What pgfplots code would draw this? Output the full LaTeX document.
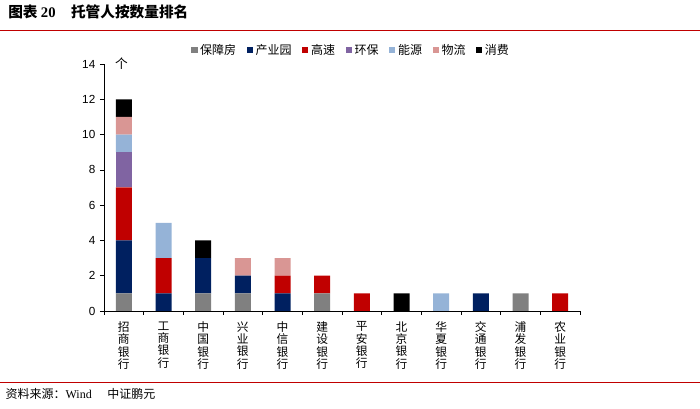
\documentclass[border=0pt]{standalone}
\usepackage{pgfplots}
\pgfplotsset{compat=1.18}
\usepackage{fontspec}
\setmainfont{Noto Sans CJK SC}
\newfontfamily\cjk{Noto Sans CJK SC}
\newfontfamily\arial{Liberation Sans}
\newfontfamily\tnr{Liberation Serif}

\definecolor{cGray}{HTML}{808080}
\definecolor{cNavy}{HTML}{002060}
\definecolor{cRed}{HTML}{C00000}
\definecolor{cPurple}{HTML}{8064A2}
\definecolor{cLBlue}{HTML}{95B3D7}
\definecolor{cPink}{HTML}{D99694}
\definecolor{cLine}{HTML}{C00000}

% x: 0 招商 1 工商 2 中国 3 兴业 4 中信 5 建设 6 平安 7 北京 8 华夏 9 交通 10 浦发 11 农业
\begin{document}
\begin{tikzpicture}
\path[use as bounding box] (0,0) rectangle (525pt,306.75pt);
% header and footer
\node[anchor=west, inner sep=0pt, font=\cjk\bfseries\fontsize{11}{11}\selectfont] at (6pt,297.5pt)
  {图表 {\tnr\bfseries 20}\hspace{1.05em}托管人按数量排名};
\draw[cLine, line width=1pt] (0,284pt) -- (525pt,284pt);
\draw[cLine, line width=1pt] (0,20pt) -- (525pt,20pt);
\node[anchor=west, inner sep=0pt, font=\cjk\fontsize{9}{9}\selectfont] at (4pt,11.5pt)
  {资料来源：{\tnr Wind}\hspace{1.3em}中证鹏元};

\begin{axis}[
    at={(78pt,73.5pt)}, anchor=south west,
    scale only axis, width=357pt, height=185.25pt,
    ybar stacked, bar width=12pt,
    xmin=-0.5, xmax=11.5, ymin=0, ymax=14,
    axis lines*=left,
    axis line style={black, line width=0.6pt},
    xtick={0,...,11},
    xticklabels={招\\商\\银\\行, 工\\商\\银\\行, 中\\国\\银\\行, 兴\\业\\银\\行,
                 中\\信\\银\\行, 建\\设\\银\\行, 平\\安\\银\\行, 北\\京\\银\\行,
                 华\\夏\\银\\行, 交\\通\\银\\行, 浦\\发\\银\\行, 农\\业\\银\\行},
    xticklabel style={font=\cjk\fontsize{8.8}{9.2}\selectfont, align=center, yshift=-1.5pt},
    minor xtick={-0.5,0.5,...,11.5},
    major x tick style={draw=none},
    ytick={0,2,...,14},
    yticklabel style={font=\arial\fontsize{8.8}{8.8}\selectfont},
    /pgf/number format/assume math mode=true,
    tick align=outside, tick style={black, line width=0.5pt},
    major tick length=3pt, minor tick length=3pt,
    legend columns=-1,
    legend style={at={(0.52,1.0)}, anchor=south, yshift=1.5pt, draw=none,
                  font=\cjk\fontsize{9}{9}\selectfont,
                  /tikz/every even column/.append style={column sep=6pt}},
    legend image code/.code={\fill[#1] (0pt,-2.3pt) rectangle (4.6pt,2.3pt);},
    every axis plot/.append style={draw=none},
    clip=false,
]
\addplot[fill=cGray] coordinates {(0,1) (1,0) (2,1) (3,1) (4,0) (5,1) (6,0) (7,0) (8,0) (9,0) (10,1) (11,0)};
\addplot[fill=cNavy] coordinates {(0,3) (1,1) (2,2) (3,1) (4,1) (5,0) (6,0) (7,0) (8,0) (9,1) (10,0) (11,0)};
\addplot[fill=cRed] coordinates {(0,3) (1,2) (2,0) (3,0) (4,1) (5,1) (6,1) (7,0) (8,0) (9,0) (10,0) (11,1)};
\addplot[fill=cPurple] coordinates {(0,2) (1,0) (2,0) (3,0) (4,0) (5,0) (6,0) (7,0) (8,0) (9,0) (10,0) (11,0)};
\addplot[fill=cLBlue] coordinates {(0,1) (1,2) (2,0) (3,0) (4,0) (5,0) (6,0) (7,0) (8,1) (9,0) (10,0) (11,0)};
\addplot[fill=cPink] coordinates {(0,1) (1,0) (2,0) (3,1) (4,1) (5,0) (6,0) (7,0) (8,0) (9,0) (10,0) (11,0)};
\addplot[fill=black] coordinates {(0,1) (1,0) (2,1) (3,0) (4,0) (5,0) (6,0) (7,1) (8,0) (9,0) (10,0) (11,0)};
\legend{保障房, 产业园, 高速, 环保, 能源, 物流, 消费}
\node[font=\cjk\fontsize{9.5}{9.5}\selectfont] at (rel axis cs:0,1) [xshift=13pt] {个};
\end{axis}
\end{tikzpicture}
\end{document}
